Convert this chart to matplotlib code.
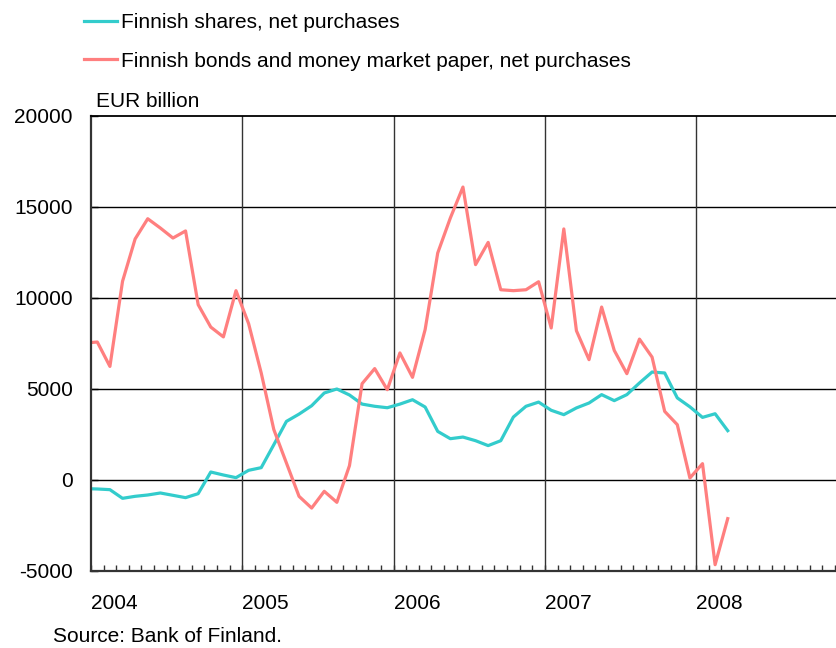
import numpy as np
import matplotlib
matplotlib.use("Agg")
import matplotlib.pyplot as plt
from matplotlib.ticker import MultipleLocator

plt.rcParams['font.family'] = ['Liberation Sans', 'DejaVu Sans']
plt.rcParams['axes.unicode_minus'] = False

# monthly values, Dec 2003 .. Mar 2008 (Dec 2003 is clipped at the left axis)
shares = [-494,
          -512, -549, -1025, -915, -842, -732, -860, -988, -769, 420, 256, 110,
          513, 659, 1920, 3200, 3600, 4060, 4760, 4980, 4650, 4150, 4030, 3950,
          4150, 4390, 3990, 2650, 2250, 2340, 2140, 1870, 2140, 3440, 4030, 4260,
          3810, 3570, 3940, 4210, 4670, 4340, 4670, 5310, 5910, 5860, 4490, 4000,
          3420, 3620, 2690]
bonds = [7500,
         7560, 6220, 10890, 13220, 14330, 13820, 13270, 13660, 9610, 8380, 7840, 10380,
         8570, 5860, 2750, 915, -915, -1560, -640, -1245, 770, 5270, 6100, 4940,
         6960, 5620, 8240, 12450, 14370, 16070, 11810, 13030, 10430, 10380, 10430, 10870,
         8330, 13770, 8180, 6590, 9480, 7100, 5820, 7720, 6730, 3750, 3020, 90,
         880, -4670, -2140]
years = ['2004', '2005', '2006', '2007', '2008']
labels = ['Finnish shares, net purchases',
          'Finnish bonds and money market paper, net purchases']

# x in months from Jan 2004, points at mid-month
x = np.arange(len(shares)) - 0.5

fig = plt.figure(figsize=(8.37, 6.48), dpi=100)
ax = fig.add_axes([91 / 837, 1 - 570.7 / 648, 756.5 / 837, 455.2 / 648])

ax.plot(x, shares, color='#33CCCC', lw=2.3, label=labels[0])
ax.plot(x, bonds, color='#FF7F7F', lw=2.3, label=labels[1])

ax.set_xlim(0, 60)
ax.set_ylim(-5000, 20000)
ax.yaxis.set_major_locator(MultipleLocator(5000))
ax.xaxis.set_major_locator(MultipleLocator(12))
ax.xaxis.set_minor_locator(MultipleLocator(1))
ax.set_xticklabels([])

for v in range(0, 20000, 5000):
    ax.axhline(v, color='black', lw=1.0, zorder=1)
for m in range(12, 60, 12):
    ax.axvline(m, color='#333333', lw=1.0, zorder=1)

ax.spines['right'].set_visible(False)
ax.spines['top'].set_linewidth(1.3)
ax.spines['left'].set_linewidth(1.6)
ax.spines['bottom'].set_linewidth(1.6)
ax.spines['left'].set_color('#333333')
ax.spines['bottom'].set_color('#333333')

ax.tick_params(axis='y', direction='in', length=5, width=1, labelsize=15, pad=13)
ax.tick_params(axis='x', which='both', direction='in', length=4, width=1, color='#333333')

for i, yr in enumerate(years):
    ax.text(i * 12, -0.0716, yr, transform=ax.get_xaxis_transform(),
            ha='left', va='center', fontsize=15)

fig.text(96 / 837, 1 - 101.7 / 648, 'EUR billion', ha='left', va='center', fontsize=15)
fig.text(53 / 837, 1 - 636.7 / 648, 'Source: Bank of Finland.', ha='left', va='center', fontsize=15)

fig.legend(loc='upper left', bbox_to_anchor=(84 / 837, 1 - 13 / 648), frameon=False,
           fontsize=15, handlelength=1.6, handletextpad=0.2, labelspacing=0.95,
           borderpad=0, borderaxespad=0)

fig.savefig('out.png', dpi=100)
